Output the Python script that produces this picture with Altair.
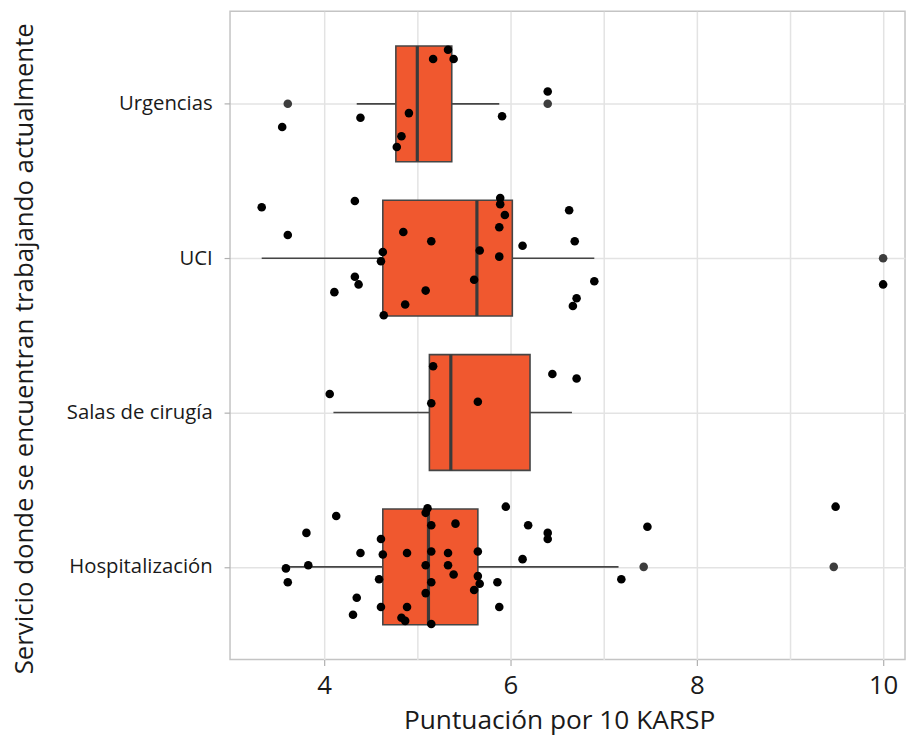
import altair as alt
import pandas as pd

# ---------------- data ----------------
categories = ["Urgencias", "UCI", "Salas de cirugía", "Hospitalización"]

# boxplot statistics (lower whisker, Q1, median, Q3, upper whisker)
whisker_low = [4.35, 3.33, 4.10, 3.59]
q1 = [4.77, 4.63, 5.13, 4.63]
median = [5.00, 5.64, 5.36, 5.12]
q3 = [5.37, 6.02, 6.21, 5.65]
whisker_high = [5.88, 6.90, 6.66, 7.16]

# boxplot outliers
outlier_cat = ["Urgencias", "Urgencias", "UCI", "Hospitalización", "Hospitalización"]
outlier_val = [3.61, 6.40, 10.0, 7.43, 9.47]

# individual (jittered) scores and their vertical jitter (in category units)
urg_x = [3.55, 4.39, 4.91, 4.83, 4.78, 5.17, 5.33, 5.39, 5.91, 6.40]
urg_j = [-0.15, -0.09, -0.06, -0.21, -0.28, 0.29, 0.35, 0.29, -0.08, 0.08]

uci_x = [3.33, 3.61, 4.33, 4.11, 4.33, 4.37, 4.63, 4.61, 4.64, 4.85, 5.15, 5.09, 4.87,
         5.61, 5.67, 5.88, 5.88, 5.94, 5.89, 5.89, 6.13, 6.63, 6.69, 6.90, 6.71, 6.67, 10.0]
uci_j = [0.33, 0.15, 0.37, -0.22, -0.12, -0.17, 0.04, -0.02, -0.37, 0.17, 0.11, -0.21, -0.30,
         -0.14, 0.05, 0.01, 0.20, 0.28, 0.39, 0.35, 0.08, 0.31, 0.11, -0.15, -0.26, -0.31, -0.17]

sal_x = [4.06, 5.17, 5.15, 5.65, 6.45, 6.71]
sal_j = [0.12, 0.30, 0.06, 0.07, 0.25, 0.22]

hos_x = [3.59, 3.61, 3.81, 3.83, 4.13, 4.39, 4.35, 4.31, 4.61, 4.63, 4.59, 4.61, 4.89, 4.89,
         4.83, 4.87, 5.11, 5.09, 5.15, 5.15, 5.09, 5.15, 5.09, 5.15, 5.41, 5.33, 5.33, 5.39,
         5.65, 5.65, 5.67, 5.61, 5.86, 5.88, 5.95, 6.13, 6.19, 6.40, 6.40, 7.19, 7.47, 9.49]
hos_j = [-0.01, -0.10, 0.22, 0.01, 0.33, 0.09, -0.20, -0.31, 0.18, 0.08, -0.08, -0.26, 0.09, -0.26,
         -0.33, -0.35, 0.38, 0.35, 0.27, 0.10, 0.01, -0.10, -0.17, -0.37, 0.28, 0.09, 0.01, -0.05,
         0.10, -0.06, -0.11, -0.15, -0.10, -0.26, 0.39, 0.05, 0.27, 0.22, 0.18, -0.08, 0.26, 0.39]

x_title = "Puntuación por 10 KARSP"
y_title = "Servicio donde se encuentran trabajando actualmente"

# ---------------- tables ----------------
pos = {c: len(categories) - i for i, c in enumerate(categories)}
half = 0.375

box_df = pd.DataFrame({
    "cat": categories,
    "lo": whisker_low, "q1": q1, "med": median, "q3": q3, "hi": whisker_high,
})
box_df["pos"] = box_df["cat"].map(pos)
box_df["top"] = box_df["pos"] + half
box_df["bot"] = box_df["pos"] - half

out_df = pd.DataFrame({"cat": outlier_cat, "val": outlier_val})
out_df["pos"] = out_df["cat"].map(pos)

frames = []
for c, xs, js in [("Urgencias", urg_x, urg_j), ("UCI", uci_x, uci_j),
                  ("Salas de cirugía", sal_x, sal_j), ("Hospitalización", hos_x, hos_j)]:
    frames.append(pd.DataFrame({"cat": c, "val": xs, "jit": js}))
pts_df = pd.concat(frames, ignore_index=True)
pts_df["ypos"] = pts_df["cat"].map(pos) + pts_df["jit"]

# ---------------- scales & axes ----------------
FONT = "Open Sans"
xscale = alt.Scale(domain=[2.99, 10.235], nice=False, zero=False)
yscale = alt.Scale(domain=[0.4, 4.6], nice=False, zero=False)

label_expr = " : ".join(f"datum.value == {pos[c]} ? '{c}'" for c in categories) + " : ''"

xaxis = alt.Axis(
    values=[4, 5, 6, 7, 8, 9, 10],
    format="d",
    labelExpr="datum.value % 2 == 0 ? datum.label : ''",
    tickOpacity={"condition": {"test": "datum.value % 2 == 1", "value": 0}, "value": 1},
    title=x_title,
    titleX=332, titleY=70, titleBaseline="alphabetic", titleAlign="center",
    labelFontSize=26, titleFontSize=26.5,
    labelPadding=7,
)
yaxis = alt.Axis(
    values=[1, 2, 3, 4],
    labelExpr=label_expr,
    title=y_title,
    titleX=-199, titleY=340, titleBaseline="alphabetic", titleAlign="center", titleAngle=-90,
    labelFontSize=20.5, titleFontSize=26,
    labelPadding=12,
)

whisk = alt.Chart(box_df).mark_rule(color="#454545", strokeWidth=1.6).encode(
    x=alt.X("lo:Q", scale=xscale, axis=xaxis),
    x2="hi:Q",
    y=alt.Y("pos:Q", scale=yscale, axis=yaxis),
)
box = alt.Chart(box_df).mark_rect(fill="#F0582F", stroke="#454545", strokeWidth=1.6).encode(
    x=alt.X("q1:Q", scale=xscale), x2="q3:Q",
    y=alt.Y("bot:Q", scale=yscale), y2="top:Q",
)
med = alt.Chart(box_df).mark_rule(color="#3a3a3a", strokeWidth=3.2).encode(
    x=alt.X("med:Q", scale=xscale),
    y=alt.Y("bot:Q", scale=yscale), y2="top:Q",
)
outl = alt.Chart(out_df).mark_circle(color="#3d3d3d", opacity=1, size=75).encode(
    x=alt.X("val:Q", scale=xscale),
    y=alt.Y("pos:Q", scale=yscale),
)
pts = alt.Chart(pts_df).mark_circle(color="#000000", opacity=1, size=75).encode(
    x=alt.X("val:Q", scale=xscale),
    y=alt.Y("ypos:Q", scale=yscale),
)

chart = alt.layer(whisk, box, med, outl, pts).properties(
    width=681, height=654,
    autosize=alt.AutoSizeParams(type="none"),
    padding={"left": 224, "top": 0, "right": 2, "bottom": 78},
).configure_view(
    stroke="#c4c4c4", strokeWidth=1.5,
).configure_axis(
    labelFont=FONT, titleFont=FONT,
    labelColor="#1a1a1a", titleColor="#1a1a1a",
    titleFontWeight="normal",
    gridColor="#e3e3e3", gridWidth=1.5,
    tickColor="#b0b0b0", tickSize=6, tickWidth=1.2,
    domain=False,
)

chart.save("out.html", embed_options={"renderer": "svg", "actions": False})
